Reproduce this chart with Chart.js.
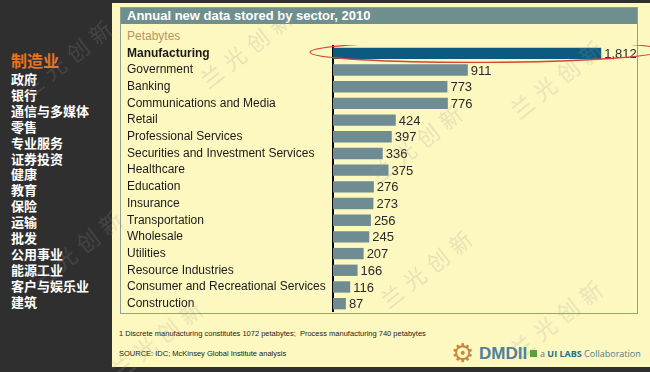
<!DOCTYPE html>
<html>
<head>
<meta charset="utf-8">
<script src="https://cdn.jsdelivr.net/npm/chart.js@4.4.1/dist/chart.umd.min.js"></script>
<style>
  html, body { margin: 0; padding: 0; }
  body { width: 650px; height: 372px; background: #2f2f2f; position: relative; overflow: hidden; font-family: "Liberation Sans", Arial, sans-serif; }
  #cn { position: absolute; left: 11px; top: 51px; color: #fff; font-family: "Noto Sans CJK SC", sans-serif; font-weight: bold; font-size: 13px; line-height: 15.9px; }
  #cn div { white-space: nowrap; }
  #cn .hl { color: #e8731e; font-size: 16px; line-height: 19px; margin-bottom: 1px; }
  #panel { position: absolute; left: 112px; top: 3px; width: 545px; height: 364px; background: #fdf8c0; }
  #box { position: absolute; left: 120px; top: 7px; width: 516px; height: 305px; border: 1px solid #8f9f9c; }
  #head { position: absolute; left: 121px; top: 8px; width: 516px; height: 16px; background: #6f8f8e; color: #fff; font-weight: bold; font-size: 13px; line-height: 16px; padding-left: 6px; box-sizing: border-box; }
  #unit { position: absolute; left: 127px; top: 29px; color: #b89466; font-size: 12px; }
  .note { position: absolute; left: 119px; font-size: 7.5px; color: #222; white-space: nowrap; }
  #logo { position: absolute; left: 451px; top: 340px; white-space: nowrap; }
  #gear { position: absolute; left: 0; top: -2px; font-family: "DejaVu Sans"; font-size: 26px; color: #c9873e; }
  #dm { position: absolute; left: 28px; top: 4px; font-weight: bold; font-size: 17px; color: #4f80a0; font-family: "Liberation Sans", Arial, sans-serif; }
  #sq { position: absolute; left: 79px; top: 10px; width: 7px; height: 7px; background: #5aa03c; }
  #ui { position: absolute; left: 89px; top: 7px; font-size: 9px; color: #4f7d86; font-family: "Open Sans", sans-serif; }
  #ui b { color: #1f6f80; }
  canvas { position: absolute; left: 120px; top: 45px; }
  .wm { position: absolute; color: rgba(150,150,150,0.22); font-family: "Noto Sans CJK SC", sans-serif; font-size: 22px; letter-spacing: 7px; transform: rotate(-38deg); white-space: nowrap; z-index: 5; }
</style>
</head>
<body>
<div id="cn"></div>
<div id="panel"></div>
<div id="box"></div>
<div id="head">Annual new data stored by sector, 2010</div>
<div id="unit">Petabytes</div>
<canvas id="chart" width="530" height="267"></canvas>
<div class="note" style="top:329px">1 Discrete manufacturing constitutes 1072 petabytes;&nbsp; Process manufacturing 740 petabytes</div>
<div class="note" style="top:349px">SOURCE: IDC; McKinsey Global Institute analysis</div>
<div id="logo"><span id="gear">⚙</span><span id="dm">DMDII</span><span id="sq"></span><span id="ui">a <b>UI LABS</b> Collaboration</span></div>
<div class="wm" style="left:10px;top:40px">兰光创新</div>
<div class="wm" style="left:190px;top:30px">兰光创新</div>
<div class="wm" style="left:360px;top:125px">兰光创新</div>
<div class="wm" style="left:500px;top:60px">兰光创新</div>
<div class="wm" style="left:370px;top:250px">兰光创新</div>
<div class="wm" style="left:500px;top:300px">兰光创新</div>
<div class="wm" style="left:100px;top:320px">兰光创新</div>
<div class="wm" style="left:20px;top:230px">兰光创新</div>
<script>
// 行业（中文）
const sectorsCn = ['制造业', '政府', '银行', '通信与多媒体', '零售', '专业服务', '证券投资', '健康',
    '教育', '保险', '运输', '批发', '公用事业', '能源工业', '客户与娱乐业', '建筑'];

const sectors = ['Manufacturing', 'Government', 'Banking', 'Communications and Media', 'Retail',
    'Professional Services', 'Securities and Investment Services', 'Healthcare', 'Education',
    'Insurance', 'Transportation', 'Wholesale', 'Utilities', 'Resource Industries',
    'Consumer and Recreational Services', 'Construction'];

const petabytes = [1812, 911, 773, 776, 424, 397, 336, 375, 276, 273, 256, 245, 207, 166, 116, 87];

const cnBox = document.getElementById('cn');
sectorsCn.forEach((s, i) => {
    const d = document.createElement('div');
    d.textContent = s;
    if (i === 0) d.className = 'hl';
    cnBox.appendChild(d);
});

// Etiquetas de valores al final de cada barra
const valueLabels = {
    id: 'valueLabels',
    afterDatasetsDraw(chart) {
        const ctx = chart.ctx;
        const meta = chart.getDatasetMeta(0);
        ctx.save();
        ctx.font = '13px "Liberation Sans", Arial, sans-serif';
        ctx.fillStyle = '#2a2a2a';
        ctx.textBaseline = 'middle';
        meta.data.forEach((bar, i) => {
            ctx.fillText(petabytes[i].toLocaleString('en-US'), bar.x + 3, bar.y + 1);
        });
        ctx.restore();
    }
};

// Óvalo rojo alrededor de Manufacturing
const highlight = {
    id: 'highlight',
    afterDraw(chart) {
        const bar = chart.getDatasetMeta(0).data[0];
        const left = bar.base - 23;
        const right = bar.x + 60;
        const ctx = chart.ctx;
        ctx.save();
        ctx.strokeStyle = '#d9433a';
        ctx.lineWidth = 1.3;
        ctx.beginPath();
        ctx.ellipse((left + right) / 2, bar.y - 2, (right - left) / 2, 11, -0.005, 0, Math.PI * 2);
        ctx.stroke();
        ctx.restore();
    }
};

new Chart(document.getElementById('chart'), {
    type: 'bar',
    data: {
        labels: sectors,
        datasets: [{
            data: petabytes,
            backgroundColor: petabytes.map((v, i) => i === 0 ? '#0c5a80' : '#6f8c93'),
            barPercentage: 0.68,
            categoryPercentage: 1
        }]
    },
    options: {
        indexAxis: 'y',
        responsive: false,
        animation: false,
        devicePixelRatio: 1,
        layout: { padding: { left: 7, right: 21, top: 0, bottom: 0 } },
        plugins: {
            legend: { display: false },
            tooltip: { enabled: false }
        },
        scales: {
            x: { display: false, min: 0, max: 2000 },
            y: {
                afterFit: (scale) => {
                    scale.width = 206;
                    scale.paddingTop = 0;
                    scale.paddingBottom = 0;
                },
                grid: { display: false, drawTicks: false },
                border: { display: true, color: '#000', width: 2 },
                ticks: {
                    autoSkip: false,
                    crossAlign: 'far',
                    color: '#1a1a1a',
                    padding: 0,
                    font: (c) => ({
                        family: '"Liberation Sans", Arial, sans-serif',
                        size: 12,
                        weight: c.index === 0 ? 'bold' : 'normal'
                    })
                }
            }
        }
    },
    plugins: [valueLabels, highlight]
});
</script>
</body>
</html>
